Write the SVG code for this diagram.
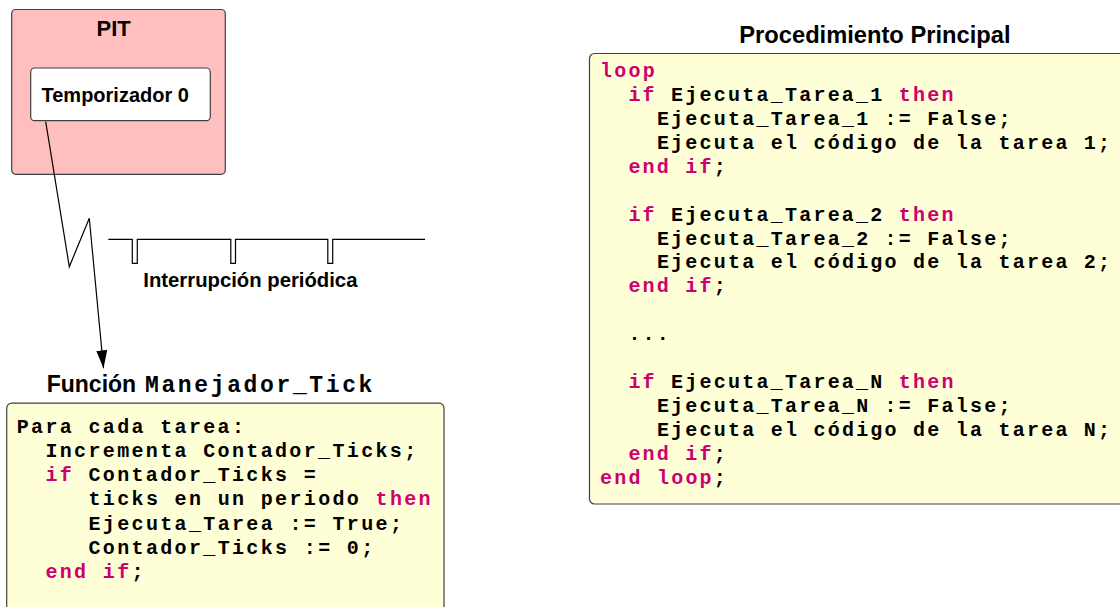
<svg xmlns="http://www.w3.org/2000/svg" width="1120" height="607" viewBox="0 0 1120 607">
<defs>
<style>
.box{stroke:#404040;stroke-width:1.2}
.h{font-family:"Liberation Sans",Arial,sans-serif;font-weight:bold;fill:#000}
.c{font-family:"Liberation Mono","Courier New",monospace;font-weight:bold;fill:#000}
.r{font-size:20px;letter-spacing:2.23px}
.l{font-size:20px;letter-spacing:2.35px}
.kw{fill:#cc0070}
.ln{fill:none;stroke:#000;stroke-width:1.2}
</style>
<marker id="arr" markerWidth="18" markerHeight="11" refX="18" refY="5.5" orient="auto" markerUnits="userSpaceOnUse" viewBox="0 0 18 11">
<path d="M0,0 L18,5.5 L0,11 Z" fill="#000"/>
</marker>
</defs>
<rect width="1120" height="607" fill="#fff"/>

<g id="pit">
<rect class="box" x="11.7" y="9.5" width="213.6" height="164.8" rx="4" fill="#ffbfbf"/>
<text class="h" x="113.7" y="35.7" font-size="22" text-anchor="middle">PIT</text>
</g>

<g id="temporizador">
<rect class="box" x="30.7" y="68" width="179.6" height="52.7" rx="4" fill="#fff"/>
<text class="h" x="41.5" y="101.7" font-size="20">Temporizador 0</text>
</g>

<g id="senal">
<path class="ln" d="M108.3,239.3 H132.3 V263.3 H137.3 V239.3 H230.8 V263.3 H235.5 V239.3 H327.8 V263.3 H332.7 V239.3 H425"/>
<text class="h" x="143.3" y="286.7" font-size="20.3">Interrupción periódica</text>
</g>

<g id="connectors">
<path class="ln" d="M45.7,121.7 L69.3,266.7 L89.3,218.3 L103.5,368.3" marker-end="url(#arr)"/>
</g>

<g id="manejador">
<text class="h" x="46.7" y="391.7" font-size="23">Función</text>
<text class="c" x="145" y="391.7" font-size="23" letter-spacing="2.63">Manejador_Tick</text>
<rect class="box" x="6.7" y="403.2" width="437.3" height="230" rx="5" fill="#ffffd7"/>
<text class="c l" x="16.7" y="432.8">Para cada tarea:</text>
<text class="c l" x="45.4" y="457">Incrementa Contador_Ticks;</text>
<text class="c l" x="45.4" y="481.2"><tspan class="kw">if</tspan> Contador_Ticks =</text>
<text class="c l" x="88.5" y="505.4">ticks en un periodo <tspan class="kw">then</tspan></text>
<text class="c l" x="88.5" y="529.6">Ejecuta_Tarea := True;</text>
<text class="c l" x="88.5" y="553.8">Contador_Ticks := 0;</text>
<text class="c l" x="45.4" y="578"><tspan class="kw">end if</tspan>;</text>
</g>

<g id="principal">
<text class="h" x="874.9" y="42.7" font-size="23.7" text-anchor="middle">Procedimiento Principal</text>
<rect class="box" x="589.5" y="53.5" width="560" height="450.5" rx="5" fill="#ffffd7"/>
<text class="c r" x="600" y="77"><tspan class="kw">loop</tspan></text>
<text class="c r" x="628.4" y="100.9"><tspan class="kw">if</tspan> Ejecuta_Tarea_1 <tspan class="kw">then</tspan></text>
<text class="c r" x="656.9" y="124.9">Ejecuta_Tarea_1 := False;</text>
<text class="c r" x="656.9" y="148.8">Ejecuta el código de la tarea 1;</text>
<text class="c r" x="628.4" y="172.7"><tspan class="kw">end if</tspan>;</text>
<text class="c r" x="628.4" y="220.6"><tspan class="kw">if</tspan> Ejecuta_Tarea_2 <tspan class="kw">then</tspan></text>
<text class="c r" x="656.9" y="244.5">Ejecuta_Tarea_2 := False;</text>
<text class="c r" x="656.9" y="268.4">Ejecuta el código de la tarea 2;</text>
<text class="c r" x="628.4" y="292.4"><tspan class="kw">end if</tspan>;</text>
<text class="c r" x="628.4" y="340.2">...</text>
<text class="c r" x="628.4" y="388.1"><tspan class="kw">if</tspan> Ejecuta_Tarea_N <tspan class="kw">then</tspan></text>
<text class="c r" x="656.9" y="412">Ejecuta_Tarea_N := False;</text>
<text class="c r" x="656.9" y="436">Ejecuta el código de la tarea N;</text>
<text class="c r" x="628.4" y="459.9"><tspan class="kw">end if</tspan>;</text>
<text class="c r" x="600" y="483.8"><tspan class="kw">end loop</tspan>;</text>
</g>
</svg>
